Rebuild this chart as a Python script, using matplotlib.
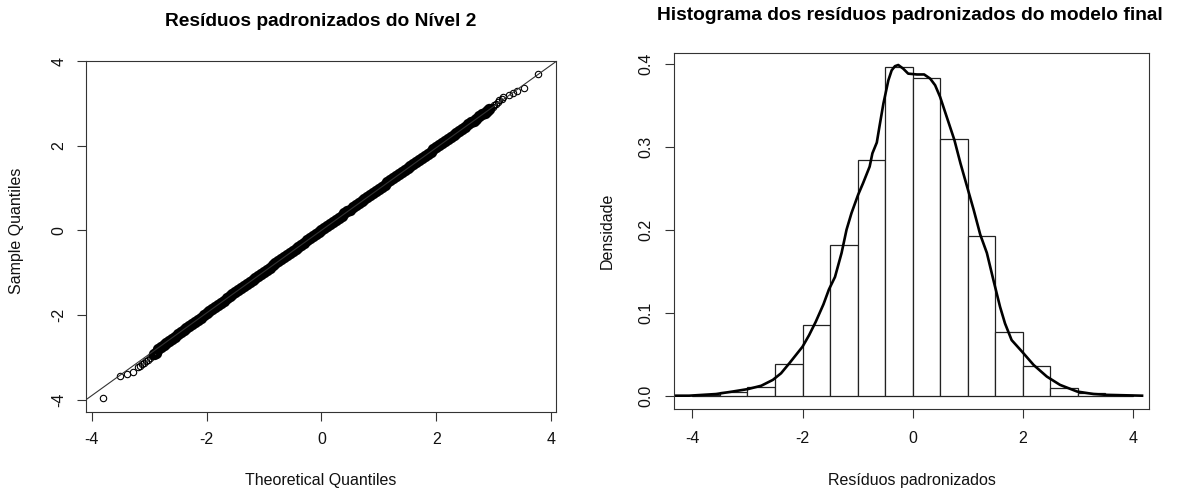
import matplotlib
matplotlib.use("Agg")
import matplotlib.pyplot as plt

plt.rcParams['font.family'] = ['Liberation Sans', 'DejaVu Sans']
plt.rcParams['axes.unicode_minus'] = False

# ---- left panel: normal Q-Q plot of level-2 standardized residuals ----
# dense central part of the point cloud (theoretical, sample)
qq_theo = [-2.92, -2.88, -2.84,
           -2.80, -2.75, -2.70, -2.65, -2.60, -2.55, -2.50, -2.45, -2.40, -2.35,
           -2.30, -2.25, -2.20, -2.15, -2.10, -2.05, -2.00, -1.95, -1.90, -1.85,
           -1.80, -1.75, -1.70, -1.65, -1.60, -1.55, -1.50, -1.45, -1.40, -1.35,
           -1.30, -1.25, -1.20, -1.15, -1.10, -1.05, -1.00, -0.95, -0.90, -0.85,
           -0.80, -0.75, -0.70, -0.65, -0.60, -0.55, -0.50, -0.45, -0.40, -0.35,
           -0.30, -0.25, -0.20, -0.15, -0.10, -0.05, 0.00, 0.05, 0.10, 0.15,
           0.20, 0.25, 0.30, 0.35, 0.40, 0.45, 0.50, 0.55, 0.60, 0.65,
           0.70, 0.75, 0.80, 0.85, 0.90, 0.95, 1.00, 1.05, 1.10, 1.15,
           1.20, 1.25, 1.30, 1.35, 1.40, 1.45, 1.50, 1.55, 1.60, 1.65,
           1.70, 1.75, 1.80, 1.85, 1.90, 1.95, 2.00, 2.05, 2.10, 2.15,
           2.20, 2.25, 2.30, 2.35, 2.40, 2.45, 2.50, 2.55, 2.60, 2.65,
           2.70, 2.75, 2.80, 2.84, 2.88, 2.92]
qq_sample = [-2.93, -2.89, -2.81,
             -2.76, -2.71, -2.66, -2.61, -2.56, -2.51, -2.46, -2.41, -2.36, -2.31,
             -2.26, -2.21, -2.16, -2.11, -2.06, -2.01, -1.96, -1.91, -1.86, -1.81,
             -1.76, -1.71, -1.66, -1.61, -1.56, -1.51, -1.46, -1.42, -1.37, -1.32,
             -1.27, -1.22, -1.17, -1.12, -1.07, -1.02, -0.98, -0.93, -0.88, -0.83,
             -0.78, -0.73, -0.68, -0.63, -0.59, -0.54, -0.49, -0.44, -0.39, -0.34,
             -0.29, -0.24, -0.19, -0.14, -0.09, -0.04, 0.01, 0.06, 0.10, 0.15,
             0.20, 0.25, 0.30, 0.35, 0.40, 0.45, 0.49, 0.54, 0.59, 0.64,
             0.69, 0.74, 0.79, 0.84, 0.88, 0.93, 0.98, 1.03, 1.08, 1.13,
             1.18, 1.23, 1.28, 1.32, 1.37, 1.42, 1.47, 1.52, 1.57, 1.62,
             1.67, 1.72, 1.76, 1.81, 1.86, 1.91, 1.96, 2.01, 2.06, 2.11,
             2.16, 2.20, 2.25, 2.30, 2.35, 2.40, 2.45, 2.50, 2.55, 2.59,
             2.64, 2.69, 2.74, 2.78, 2.82, 2.86]
# sparse tails, where single circles are visible
tail_theo = [-3.80, -3.51, -3.39, -3.28, -3.20, -3.16, -3.12, -3.09, -3.05, -3.02,
             -2.98, -2.95,
             2.95, 2.98, 3.01, 3.04, 3.07, 3.10,
             3.14, 3.17, 3.27, 3.33, 3.41, 3.52, 3.77]
tail_sample = [-3.97, -3.44, -3.40, -3.34, -3.24, -3.20, -3.16, -3.13, -3.09, -3.06,
               -3.01, -2.97,
               2.89, 2.92, 2.95, 2.99, 3.03, 3.07,
               3.11, 3.14, 3.20, 3.24, 3.29, 3.37, 3.70]
qq_slope = 0.976
qq_intercept = 0.0

# ---- right panel: histogram + kernel density ----
bin_left = [-4.0, -3.5, -3.0, -2.5, -2.0, -1.5, -1.0, -0.5, 0.0, 0.5,
            1.0, 1.5, 2.0, 2.5, 3.0, 3.5]
bin_width = 0.5
dens = [0.0004, 0.0040, 0.0100, 0.0378, 0.0856, 0.1814, 0.2834, 0.3956, 0.3831, 0.3089,
        0.1928, 0.0767, 0.0352, 0.0098, 0.0033, 0.0004]
kde_x = [-4.30, -4.06, -3.57, -3.27, -2.99, -2.75, -2.54, -2.39, -2.24, -2.12,
         -2.00, -1.88, -1.76, -1.62, -1.52, -1.41, -1.29, -1.20, -1.11, -0.99,
         -0.90, -0.78, -0.73, -0.65, -0.60, -0.53, -0.44, -0.38, -0.32, -0.26,
         -0.17, -0.08, 0.08, 0.21, 0.32, 0.41, 0.50, 0.59, 0.68, 0.76,
         0.87, 0.99, 1.11, 1.23, 1.35, 1.47, 1.59, 1.68, 1.80, 1.99,
         2.20, 2.44, 2.68, 2.99, 3.29, 3.53, 4.17]
kde_y = [0.0000, 0.0000, 0.0020, 0.0050, 0.0080, 0.0120, 0.0190, 0.0270, 0.0390, 0.0490,
         0.0590, 0.0730, 0.0890, 0.1100, 0.1280, 0.1430, 0.1720, 0.2000, 0.2200, 0.2420,
         0.2560, 0.2760, 0.2920, 0.3050, 0.3250, 0.3520, 0.3800, 0.3920, 0.3970, 0.3984,
         0.3940, 0.3880, 0.3870, 0.3870, 0.3820, 0.3740, 0.3600, 0.3420, 0.3240, 0.3080,
         0.2800, 0.2520, 0.2240, 0.1940, 0.1720, 0.1390, 0.1070, 0.0870, 0.0670, 0.0530,
         0.0370, 0.0230, 0.0130, 0.0050, 0.0020, 0.0010, 0.0000]

W, H = 1183, 492
fig = plt.figure(figsize=(W / 100, H / 100), dpi=100)

def box(l, t, r, b):
    return [l / W, 1 - b / H, (r - l) / W, (b - t) / H]

def r_style(ax, xpad, ypad):
    for s in ax.spines.values():
        s.set_color('#333333')
        s.set_linewidth(0.8)
    ax.tick_params(length=6.8, width=0.8, color='#333333', labelsize=11.5,
                   labelcolor='#111111')
    ax.tick_params(axis='x', pad=xpad)
    ax.tick_params(axis='y', pad=ypad, labelrotation=90)
    for lab in ax.get_yticklabels():
        lab.set_va('center')

# left
ax1 = fig.add_axes(box(86, 61, 556, 411.5))
ax1.plot(qq_theo, qq_sample, 'o', ms=5.3, mfc='none', mec='black', mew=2.9)
ax1.plot(tail_theo, tail_sample, 'o', ms=4.6, mfc='none', mec='black', mew=0.8)
ax1.axline((0, qq_intercept), slope=qq_slope, color='#333333', lw=0.8)
ax1.set_xlim(-4.10, 4.085)
ax1.set_ylim(-4.28, 3.986)
ax1.set_xticks([-4, -2, 0, 2, 4])
ax1.set_yticks([-4, -2, 0, 2, 4])
r_style(ax1, 8, 7.5)

fig.text(321 / W, 1 - 21 / H, 'Resíduos padronizados do Nível 2',
         ha='center', va='center', fontsize=13.8, fontweight='bold')
fig.text(321 / W, 1 - 480 / H, 'Theoretical Quantiles', ha='center', va='center',
         fontsize=11.5, color='#111111')
fig.text(17 / W, 1 - 231 / H, 'Sample Quantiles', ha='center', va='center',
         rotation=90, fontsize=11.5, color='#111111')

# right
ax2 = fig.add_axes(box(674.3, 53.3, 1149.2, 409.3))
ax2.bar(bin_left, dens, width=bin_width, align='edge', facecolor='white',
        edgecolor='#222222', linewidth=0.9)
ax2.plot(kde_x, kde_y, color='black', lw=1.9)
ax2.set_xlim(-4.33, 4.30)
ax2.set_ylim(-0.0164, 0.4125)
ax2.set_xticks([-4, -2, 0, 2, 4])
ax2.set_yticks([0.0, 0.1, 0.2, 0.3, 0.4])
ax2.set_yticklabels(['0.0', '0.1', '0.2', '0.3', '0.4'])
r_style(ax2, 8.6, 8)

fig.text(910 / W, 1 - 16 / H, 'Histograma dos resíduos padronizados do modelo final',
         ha='center', va='center', fontsize=13.8, fontweight='bold')
fig.text(912 / W, 1 - 480 / H, 'Resíduos padronizados', ha='center', va='center',
         fontsize=11.5, color='#111111')
fig.text(607 / W, 1 - 231 / H, 'Densidade', ha='center', va='center',
         rotation=90, fontsize=11.5, color='#111111')

fig.savefig('out.png', dpi=100)
